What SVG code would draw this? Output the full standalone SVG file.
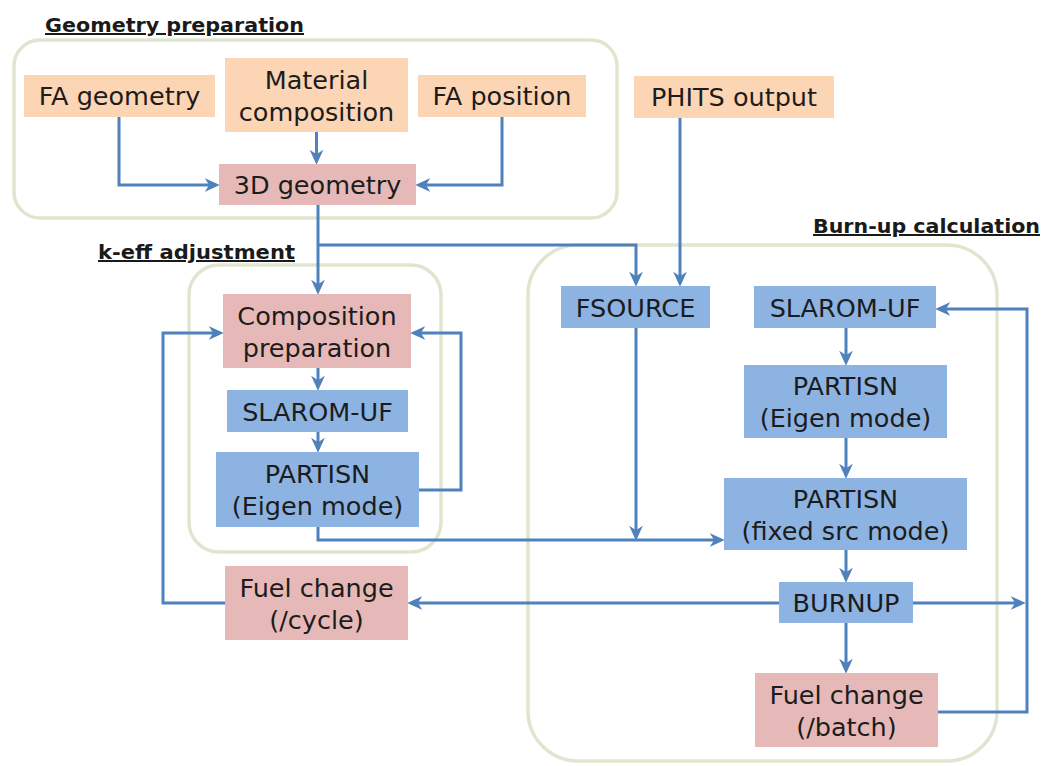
<svg xmlns="http://www.w3.org/2000/svg" width="1044" height="766" viewBox="0 0 1044 766">
  <defs>
    <style>
      .grp { fill: none; stroke: #dfe6cf; stroke-width: 3.5; }
      .title { font-family: "DejaVu Sans", Verdana, sans-serif; font-weight: bold; font-size: 20px; fill: #1a1a1a; text-decoration: underline; }
      .lbl { font-family: "DejaVu Sans", Verdana, sans-serif; font-size: 25.5px; fill: #1c1c1c; text-anchor: middle; }
      .input { fill: #fcd5b4; }
      .data { fill: #e6b9b8; }
      .code { fill: #8db3e2; }
      .conn { fill: none; stroke: #4f81bd; stroke-width: 3; stroke-linejoin: miter; }
      .arr { marker-end: url(#head); }
    </style>
    <marker id="head" viewBox="0 0 12 12" refX="9" refY="6" markerUnits="userSpaceOnUse" markerWidth="15" markerHeight="15" orient="auto">
      <path d="M0,0.5 L12,6 L0,11.5 L3.5,6 Z" fill="#4f81bd"/>
    </marker>
  </defs>
  <rect width="1044" height="766" fill="#ffffff"/>

  <!-- group frames -->
  <g id="geometry-preparation">
    <rect class="grp" x="14" y="40" width="603" height="178" rx="26"/>
    <text class="title" x="45" y="32" textLength="259" lengthAdjust="spacingAndGlyphs">Geometry preparation</text>
  </g>
  <g id="keff-adjustment">
    <rect class="grp" x="189" y="265" width="252" height="287" rx="30"/>
    <text class="title" x="98" y="259" textLength="197" lengthAdjust="spacingAndGlyphs">k-eff adjustment</text>
  </g>
  <g id="burnup-calculation">
    <rect class="grp" x="528" y="245" width="469" height="516" rx="50"/>
    <text class="title" x="813" y="233" textLength="227" lengthAdjust="spacingAndGlyphs">Burn-up calculation</text>
  </g>

  <!-- connectors -->
  <g id="connectors">
    <path class="conn arr" d="M119,117 V185 H216"/>
    <path class="conn arr" d="M316.5,132 V161"/>
    <path class="conn arr" d="M502,117 V185 H419"/>
    <path class="conn arr" d="M318,205 V291"/>
    <path class="conn arr" d="M318,245 H636 V283"/>
    <path class="conn arr" d="M680,118 V283"/>
    <path class="conn arr" d="M318,368 V387"/>
    <path class="conn arr" d="M318,432 V449"/>
    <path class="conn arr" d="M419,490 H461 V333 H414"/>
    <path class="conn arr" d="M318,527 V540 H721"/>
    <path class="conn arr" d="M636,328 V537"/>
    <path class="conn arr" d="M846,328 V362"/>
    <path class="conn arr" d="M846,438 V475"/>
    <path class="conn arr" d="M846,550 V579"/>
    <path class="conn arr" d="M779,603 H411"/>
    <path class="conn arr" d="M913,603 H1022"/>
    <path class="conn arr" d="M846,623 V670"/>
    <path class="conn arr" d="M938,712 H1027 V309 H939"/>
    <path class="conn arr" d="M225,603 H163 V333 H220"/>
  </g>

  <!-- nodes -->
  <g id="fa-geometry">
    <rect class="input" x="24" y="75" width="191" height="42"/>
    <text class="lbl" x="119.5" y="105">FA geometry</text>
  </g>
  <g id="material-composition">
    <rect class="input" x="225" y="58" width="183" height="74"/>
    <text class="lbl" x="316.5" y="88.5">Material</text>
    <text class="lbl" x="316.5" y="120.5">composition</text>
  </g>
  <g id="fa-position">
    <rect class="input" x="418" y="75" width="168" height="42"/>
    <text class="lbl" x="502" y="105">FA position</text>
  </g>
  <g id="geometry-3d">
    <rect class="data" x="219" y="164" width="197" height="41"/>
    <text class="lbl" x="317.5" y="194">3D geometry</text>
  </g>
  <g id="phits-output">
    <rect class="input" x="634" y="76" width="200" height="42"/>
    <text class="lbl" x="734" y="106">PHITS output</text>
  </g>
  <g id="composition-preparation">
    <rect class="data" x="223" y="294" width="188" height="74"/>
    <text class="lbl" x="317" y="324.5">Composition</text>
    <text class="lbl" x="317" y="356.5">preparation</text>
  </g>
  <g id="slarom-keff">
    <rect class="code" x="227" y="390" width="181" height="42"/>
    <text class="lbl" x="317.5" y="420.5">SLAROM-UF</text>
  </g>
  <g id="partisn-eigen-keff">
    <rect class="code" x="216" y="452" width="203" height="75"/>
    <text class="lbl" x="317.5" y="483">PARTISN</text>
    <text class="lbl" x="317.5" y="515">(Eigen mode)</text>
  </g>
  <g id="fuel-change-cycle">
    <rect class="data" x="225" y="566" width="183" height="74"/>
    <text class="lbl" x="316.5" y="596.5">Fuel change</text>
    <text class="lbl" x="316.5" y="628.5">(/cycle)</text>
  </g>
  <g id="fsource">
    <rect class="code" x="561" y="286" width="149" height="42"/>
    <text class="lbl" x="635.5" y="316.5">FSOURCE</text>
  </g>
  <g id="slarom-burnup">
    <rect class="code" x="754" y="286" width="182" height="42"/>
    <text class="lbl" x="845" y="316.5">SLAROM-UF</text>
  </g>
  <g id="partisn-eigen-burnup">
    <rect class="code" x="744" y="365" width="203" height="73"/>
    <text class="lbl" x="845.5" y="395">PARTISN</text>
    <text class="lbl" x="845.5" y="427">(Eigen mode)</text>
  </g>
  <g id="partisn-fixed-src">
    <rect class="code" x="724" y="478" width="243" height="72"/>
    <text class="lbl" x="845.5" y="507.5">PARTISN</text>
    <text class="lbl" x="845.5" y="539.5">(fixed src mode)</text>
  </g>
  <g id="burnup">
    <rect class="code" x="779" y="582" width="134" height="41"/>
    <text class="lbl" x="846" y="612">BURNUP</text>
  </g>
  <g id="fuel-change-batch">
    <rect class="data" x="755" y="673" width="183" height="74"/>
    <text class="lbl" x="846.5" y="703.5">Fuel change</text>
    <text class="lbl" x="846.5" y="735.5">(/batch)</text>
  </g>
</svg>
